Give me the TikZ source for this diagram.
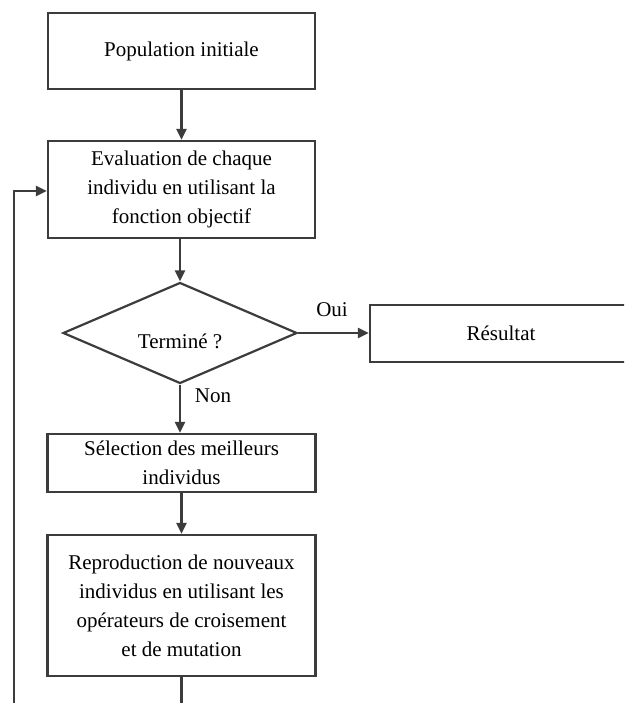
\documentclass[tikz,border=0pt]{standalone}
\usepackage{fontspec}
\setmainfont{Liberation Serif}
\usetikzlibrary{shapes.geometric,arrows.meta}
\definecolor{ln}{HTML}{3C3C3C}
\begin{document}
\begin{tikzpicture}[x=1pt,y=-1pt,
  box/.style={draw=ln,line width=2.2pt,rectangle,inner sep=0pt,align=center,
    font=\fontsize{21}{29}\selectfont,text=black},
  dia/.style={draw=ln,line width=2.2pt,diamond,inner sep=0pt,aspect=2.3,
    minimum width=234pt,minimum height=101pt},
  conn/.style={draw=ln,line width=2.2pt},
  arr/.style={conn,-{Triangle[length=11pt,width=10pt]}},
  lab/.style={font=\fontsize{21}{25}\selectfont,inner sep=0pt}]
\clip (0,0) rectangle (624,703);
\node[box,minimum width=267pt,minimum height=76pt] (pop) at (181.5,51) {Population initiale};
\node[box,minimum width=267pt,minimum height=97pt] (eval) at (181.5,189.5)
  {Evaluation de chaque\\individu en utilisant la\\fonction objectif};
\node[dia] (term) at (180,333) {};
\node[lab] (termt) at (180,341) {Terminé ?};
\node[box,minimum width=262pt,minimum height=57pt] (res) at (501,333.5) {Résultat};
\node[box,minimum width=268pt,minimum height=58pt] (sel) at (181.5,463)
  {Sélection des meilleurs\\individus};
\node[box,minimum width=268pt,minimum height=141pt] (rep) at (181.5,605.5)
  {Reproduction de nouveaux\\individus en utilisant les\\opérateurs de croisement\\et de mutation};
\node[lab] (oui) at (332,310) {Oui};
\node[lab] (non) at (213,396) {Non};
\coordinate (b1) at (181.5,705);
\coordinate (b2) at (14,705);
\coordinate (b3) at (14,191);
\draw[arr] (pop.south) -- (eval.north);
\draw[arr] (eval.south -| term.north) -- (term.north);
\draw[arr] (term.east) -- (term.east -| res.west);
\draw[arr] (term.south) -- (term.south |- sel.north);
\draw[arr] (sel.south) -- (rep.north);
\draw[conn] (rep.south) -- (b1);
\draw[arr] (b2) -- (b3) -- (b3 -| eval.west);
\end{tikzpicture}
\end{document}
